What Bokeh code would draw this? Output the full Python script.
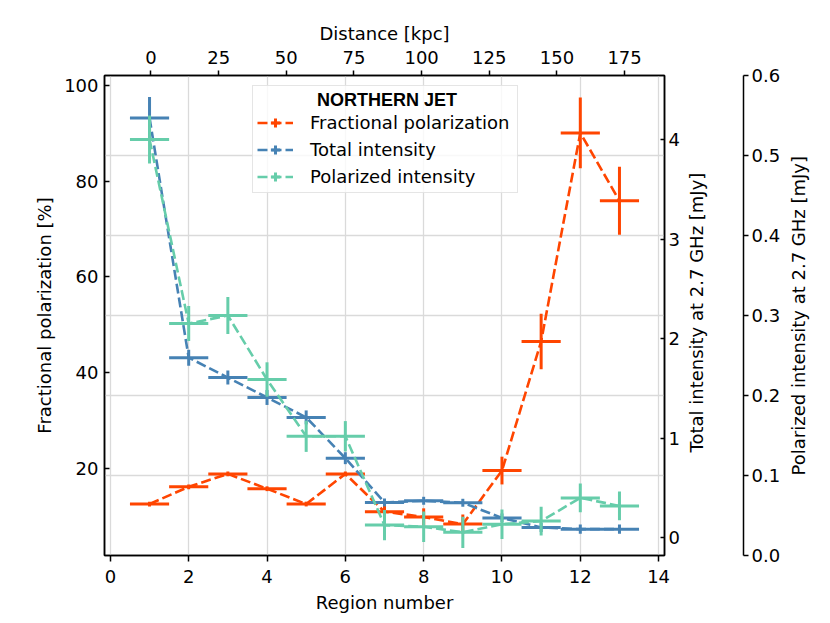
import math
import numpy as np
from bokeh.plotting import figure
from bokeh.models import (Range1d, LinearAxis, SingleIntervalTicker, FixedTicker, Grid,
                          Legend, LegendItem, ColumnDataSource, PrintfTickFormatter)
from bokeh.embed import file_html
from bokeh.resources import INLINE

# ---------------- data ----------------
regions = [1, 2, 3, 4, 5, 6, 7, 8, 9, 10, 11, 12, 13]
region_halfwidth = [0.5] * 13

frac_pol = [12.5, 16.1, 18.8, 15.7, 12.5, 18.8, 10.9, 9.8, 8.3, 19.5, 46.5, 90.1, 75.9]
frac_pol_err = [0.5, 0.5, 0.5, 0.5, 0.5, 0.5, 1.8, 1.8, 2.0, 2.9, 5.8, 7.4, 7.1]

total_int = [4.22, 1.81, 1.61, 1.41, 1.21, 0.80, 0.355, 0.372, 0.352, 0.20, 0.104, 0.087, 0.087]
total_int_err = [0.21, 0.08, 0.07, 0.075, 0.07, 0.06, 0.04, 0.04, 0.04, 0.045, 0.045, 0.046, 0.046]

pol_int = [0.52, 0.290, 0.300, 0.220, 0.149, 0.149, 0.038, 0.036, 0.029, 0.039, 0.043, 0.072, 0.062]
pol_int_err = [0.030, 0.022, 0.023, 0.0215, 0.0195, 0.019, 0.019, 0.019, 0.0195, 0.0185, 0.018, 0.018, 0.018]

pol_ticks = [0.0, 0.1, 0.2, 0.3, 0.4, 0.5, 0.6]

series_labels = ["Fractional polarization", "Total intensity", "Polarized intensity"]
legend_title = "NORTHERN JET"
total_axis_title = "Total intensity at 2.7 GHz [mJy]"
pol_axis_title = "Polarized intensity at 2.7 GHz [mJy]"

# axis conversion region -> distance
kpc_per_region = 14.47
region_of_zero_kpc = 1.037

# ---------------- styling ----------------
FONT = "DejaVu Sans"
FS = "18px"
RED = "#FF4500"
BLUE = "#4682B4"
GREEN = "#66CDAA"
GRID = "#dadada"
NBSP = "\u00a0"

x0, x1 = -0.15, 14.15
p = figure(width=830, height=623, output_backend="svg", toolbar_location=None,
           x_range=Range1d(x0, x1), y_range=Range1d(1.74, 102.1),
           min_border_left=104, min_border_right=166, min_border_top=75, min_border_bottom=68)
p.extra_x_ranges = {"dist": Range1d((x0 - region_of_zero_kpc) * kpc_per_region,
                                    (x1 - region_of_zero_kpc) * kpc_per_region)}
p.extra_y_ranges = {"total": Range1d(-0.178, 4.646), "pol": Range1d(0.0, 0.6)}

p.outline_line_color = "black"
p.outline_line_width = 1.5
p.background_fill_color = "white"


def style_axis(ax, label, tick_in=0, tick_out=5, standoff=4, label_standoff=8):
    ax.axis_label = label
    ax.axis_label_text_font = FONT
    ax.axis_label_text_font_size = FS
    ax.axis_label_text_font_style = "normal"
    ax.axis_label_text_color = "black"
    ax.axis_label_standoff = label_standoff
    ax.major_label_text_font = FONT
    ax.major_label_text_font_size = FS
    ax.major_label_text_color = "black"
    ax.major_label_standoff = standoff
    ax.axis_line_color = "black"
    ax.axis_line_width = 1.5
    ax.major_tick_line_color = "black"
    ax.major_tick_line_width = 1.5
    ax.major_tick_in = tick_in
    ax.major_tick_out = tick_out
    ax.minor_tick_line_color = None


def read_upward(ax, lead):
    # right-hand axis titles read from bottom to top, as in the reference;
    # anchored at the axis start and pushed up to sit at mid-height
    ax.axis_label_orientation = math.pi / 2
    ax.axis_label_align = "start"
    ax.axis_label = NBSP * lead + ax.axis_label


# bottom axis
x_ticker = SingleIntervalTicker(interval=2, num_minor_ticks=0)
p.xaxis.ticker = x_ticker
style_axis(p.xaxis[0], "Region number", tick_in=0, tick_out=6, standoff=8, label_standoff=6)

# left axis
p.yaxis.ticker = SingleIntervalTicker(interval=20, num_minor_ticks=0)
style_axis(p.yaxis[0], "Fractional polarization [%]", tick_in=5, tick_out=0, standoff=6, label_standoff=6)

# top axis (distance)
top_ax = LinearAxis(x_range_name="dist", ticker=SingleIntervalTicker(interval=25, num_minor_ticks=0))
style_axis(top_ax, "Distance [kpc]", tick_in=0, tick_out=5, standoff=7, label_standoff=4)
p.add_layout(top_ax, "above")

# right axis 1 (total intensity)
tot_ax = LinearAxis(y_range_name="total", ticker=SingleIntervalTicker(interval=1, num_minor_ticks=0))
style_axis(tot_ax, total_axis_title, tick_in=4, tick_out=0, standoff=4, label_standoff=14)
read_upward(tot_ax, 18)
p.add_layout(tot_ax, "right")

# spacer between the two right axes
spacer = LinearAxis(y_range_name="total", ticker=FixedTicker(ticks=[]))
spacer.axis_line_color = None
spacer.major_tick_in = 0
spacer.major_tick_out = 0
spacer.minor_tick_line_color = None
spacer.axis_label = " "
spacer.axis_label_text_font_size = "2px"
spacer.axis_label_standoff = 18
p.add_layout(spacer, "right")

# right axis 2 (polarized intensity)
pol_ticker = FixedTicker(ticks=pol_ticks)
pol_ax = LinearAxis(y_range_name="pol", ticker=pol_ticker,
                    formatter=PrintfTickFormatter(format="%.1f"))
style_axis(pol_ax, pol_axis_title, tick_in=0, tick_out=5, standoff=3, label_standoff=15)
read_upward(pol_ax, 14)
p.add_layout(pol_ax, "right")

# grids: vertical on region ticks, horizontal on polarized-intensity ticks
p.xgrid.ticker = x_ticker
p.xgrid.grid_line_color = GRID
p.xgrid.grid_line_width = 1.3
p.ygrid.visible = False
p.add_layout(Grid(dimension=1, ticker=pol_ticker, y_range_name="pol",
                  grid_line_color=GRID, grid_line_width=1.3))


def errorbar_series(vals, errs, color, range_name):
    x = np.array(regions, dtype=float)
    xe = np.array(region_halfwidth, dtype=float)
    y = np.array(vals, dtype=float)
    ye = np.array(errs, dtype=float)
    src = ColumnDataSource(dict(x=x, y=y, xl=x - xe, xr=x + xe, yl=y - ye, yh=y + ye))
    kw = {} if range_name is None else {"y_range_name": range_name}
    line = p.line("x", "y", source=src, line_color=color, line_width=2.6,
                  line_dash="10 4", **kw)
    p.segment(x0="xl", x1="xr", y0="y", y1="y", source=src, line_color=color,
              line_width=3, **kw)
    p.segment(x0="x", x1="x", y0="yl", y1="yh", source=src, line_color=color,
              line_width=3, **kw)
    cross = p.scatter("x", "y", source=src, marker="cross", size=0,
                      line_color=color, line_width=3, **kw)
    return line, cross


r_line, r_cross = errorbar_series(frac_pol, frac_pol_err, RED, None)
b_line, b_cross = errorbar_series(total_int, total_int_err, BLUE, "total")
g_line, g_cross = errorbar_series(pol_int, pol_int_err, GREEN, "pol")

legend = Legend(items=[
    LegendItem(label=series_labels[0], renderers=[r_line, r_cross]),
    LegendItem(label=series_labels[1], renderers=[b_line, b_cross]),
    LegendItem(label=series_labels[2], renderers=[g_line, g_cross]),
], location=(148, 362))
legend.title = NBSP * 12 + legend_title
legend.title_text_font = "Liberation Sans"
legend.title_text_font_style = "bold"
legend.title_text_font_size = FS
legend.title_text_color = "black"
legend.title_standoff = 0
legend.label_text_font = FONT
legend.label_text_font_size = FS
legend.label_text_color = "black"
legend.label_standoff = 17
legend.label_width = 203
legend.label_height = 23
legend.glyph_height = 23
legend.glyph_width = 36
legend.spacing = 4
legend.padding = 4
legend.margin = 0
legend.border_line_color = "#cccccc"
legend.border_line_width = 1.5
legend.background_fill_color = "white"
legend.background_fill_alpha = 0.8
p.add_layout(legend)

open("out.html", "w").write(file_html(p, INLINE))
